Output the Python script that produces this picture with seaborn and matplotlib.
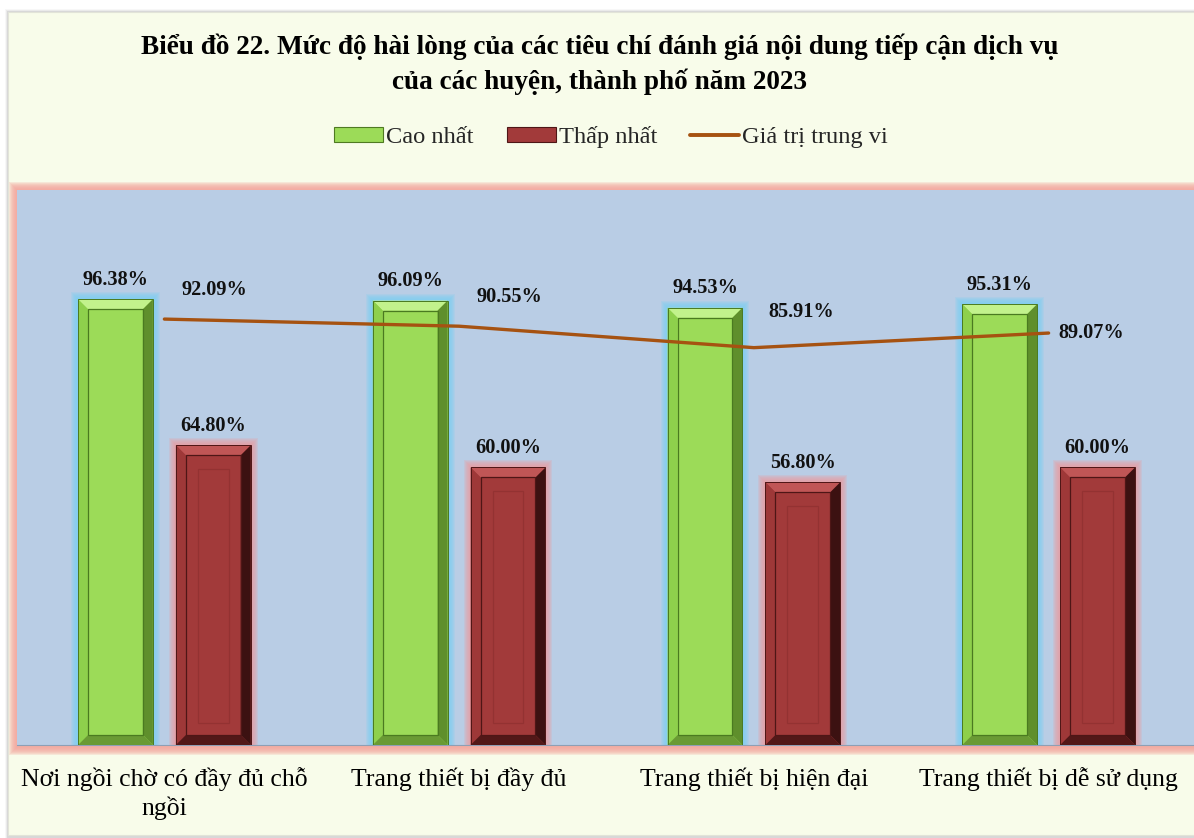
import numpy as np
import pandas as pd
import matplotlib
matplotlib.use("Agg")
import matplotlib.pyplot as plt
from matplotlib.patches import Rectangle, Polygon, Patch
from matplotlib.lines import Line2D
import seaborn as sns

# ---- data -------------------------------------------------------------
categories = [
    "Nơi ngồi chờ có đầy đủ chỗ\nngồi",
    "Trang thiết bị đầy đủ",
    "Trang thiết bị hiện đại",
    "Trang thiết bị dễ sử dụng",
]
highest = [96.38, 96.09, 94.53, 95.31]
lowest = [64.80, 60.00, 56.80, 60.00]
median = [92.09, 90.55, 85.91, 89.07]
series_names = ["Cao nhất", "Thấp nhất", "Giá trị trung vi"]
title = ("Biểu đồ 22. Mức độ hài lòng của các tiêu chí đánh giá nội dung tiếp cận dịch vụ\n"
         "của các huyện, thành phố năm 2023")

# ---- style ------------------------------------------------------------
W, H = 1194, 838
SERIF = ["Liberation Serif", "DejaVu Serif"]
sns.set_theme(style="white")
plt.rcParams["font.family"] = SERIF

GREEN = "#9CDB58"
RED = "#A23A3A"
LINE = "#A65211"
PLOT_BG = "#B9CDE5"
CREAM = "#F8FCEA"

fig = plt.figure(figsize=(W / 100, H / 100), dpi=100, facecolor="white")


def fx(px):
    return px / W


def fy(py):
    return 1 - py / H


# chart frame with a soft shadow
for i, a in enumerate([0.06, 0.10, 0.16]):
    fig.patches.append(Rectangle((fx(5 + i), fy(838)), fx(1200), fy(9 + i) - fy(838),
                                 transform=fig.transFigure, facecolor="#808080",
                                 alpha=a, edgecolor="none", zorder=-10))
fig.patches.append(Rectangle((fx(8), fy(835)), fx(1200), fy(12) - fy(835),
                             transform=fig.transFigure, facecolor=CREAM,
                             edgecolor="#E2E4D8", lw=0.8, zorder=-9))

# plot area: blue face with salmon glow around it
ax_l, ax_r, ax_t, ax_b = 17, 1196, 190, 745
for k in range(8, 0, -1):
    fig.patches.append(Rectangle((fx(ax_l - k), fy(ax_b + k + 2)),
                                 fx(ax_r - ax_l + 2 * k), fy(ax_t - k) - fy(ax_b + k + 2),
                                 transform=fig.transFigure, facecolor="#F3A59C",
                                 alpha=0.24, edgecolor="none", zorder=-8))

ax = fig.add_axes([fx(ax_l), fy(ax_b), fx(ax_r - ax_l), fy(ax_t) - fy(ax_b)])
ax.set_facecolor(PLOT_BG)

df = pd.DataFrame({
    "cat": categories * 2,
    "val": highest + lowest,
    "series": [series_names[0]] * 4 + [series_names[1]] * 4,
})
sns.barplot(data=df, x="cat", y="val", hue="series", palette=[GREEN, RED],
            saturation=1, width=0.664, gap=0.235, legend=False, ax=ax, zorder=3,
            edgecolor="none", linewidth=0)

ax.set_ylim(0, 120)
ax.set_xlim(-0.5, 3.5)
ax.set_xlabel("")
ax.set_ylabel("")
ax.set_yticks([])
ax.tick_params(axis="x", length=0, pad=16, labelsize=18.5, labelcolor="black")
for lab in ax.get_xticklabels():
    lab.set_fontfamily(SERIF)
    lab.set_linespacing(1.3)
for s in ["top", "left", "right"]:
    ax.spines[s].set_visible(False)
ax.spines["bottom"].set_color("#8E9FB5")
ax.spines["bottom"].set_linewidth(0.8)

inv = ax.transData.inverted()


def poly(pts, **kw):
    ax.add_patch(Polygon(inv.transform(np.array(pts, dtype=float)), closed=True,
                         transform=ax.transData, **kw))


def rect(x0, y0, x1, y1, **kw):
    poly([(x0, y0), (x1, y0), (x1, y1), (x0, y1)], **kw)


bevel = {
    0: dict(top="#C2F28C", left="#8ED04C", right="#5F8F2C", bottom="#6A9A34",
            edge="#4A7A20", glow="#78D0F4", inner=None),
    1: dict(top="#C05656", left="#9E3838", right="#3C1111", bottom="#521818",
            edge="#4E1616", glow="#EE9A9E", inner="#933232"),
}

for si, cont in enumerate(ax.containers):
    st = bevel[si]
    for bar in cont:
        (x0, y0), (x1, y1) = ax.transData.transform(
            [(bar.get_x(), 0), (bar.get_x() + bar.get_width(), bar.get_height())])
        # glow
        for k in range(7, 0, -1):
            rect(x0 - k, y0, x1 + k, y1 + k, facecolor=st["glow"], alpha=0.2,
                 edgecolor="none", zorder=2)
        b = 10
        poly([(x0, y1), (x1, y1), (x1 - b, y1 - b), (x0 + b, y1 - b)],
             facecolor=st["top"], edgecolor="none", zorder=4)
        poly([(x0, y0), (x0, y1), (x0 + b, y1 - b), (x0 + b, y0 + b)],
             facecolor=st["left"], edgecolor="none", zorder=4)
        poly([(x1, y1), (x1, y0), (x1 - b, y0 + b), (x1 - b, y1 - b)],
             facecolor=st["right"], edgecolor="none", zorder=4)
        poly([(x0, y0), (x1, y0), (x1 - b, y0 + b), (x0 + b, y0 + b)],
             facecolor=st["bottom"], edgecolor="none", zorder=4)
        rect(x0 + b, y0 + b, x1 - b, y1 - b, facecolor="none",
             edgecolor=st["edge"], lw=0.9, zorder=5)
        rect(x0, y0, x1, y1, facecolor="none", edgecolor=st["edge"], lw=0.7, zorder=5)
        if st["inner"]:
            rect(x0 + 22, y0 + 22, x1 - 22, y1 - 24, facecolor="none",
                 edgecolor=st["inner"], lw=0.9, zorder=5)
        ax.annotate(f"{bar.get_height():.2f}%", (bar.get_x() + bar.get_width() / 2, bar.get_height()),
                    xytext=(0, 14), textcoords="offset points", ha="center", va="center",
                    fontsize=14.6, fontweight="bold", color="#111111", zorder=7)

# median line drawn across the category centres
xpos = ax.get_xticks()
sns.lineplot(x=xpos, y=median, color=LINE, linewidth=2.4, ax=ax, zorder=6,
             solid_capstyle="round")
label_offsets = [(36, 21), (36, 21), (34, 26), (31, 0)]
for xp, v, off in zip(xpos, median, label_offsets):
    ax.annotate(f"{v:.2f}%", (xp, v), xytext=off, textcoords="offset points",
                ha="center", va="center", fontsize=14.6, fontweight="bold",
                color="#111111", zorder=7)

# title
fig.text(fx(600), fy(64.5), title, ha="center", va="center", fontsize=19.6,
         fontweight="bold", linespacing=1.42, color="black", family=SERIF)

# legend
handles = [
    Patch(facecolor=GREEN, edgecolor="#4F7A22", lw=0.8),
    Patch(facecolor=RED, edgecolor="#4E1616", lw=0.8),
    Line2D([0], [0], color=LINE, lw=2.8),
]
fig.legend(handles, series_names, loc="center", bbox_to_anchor=(fx(611), fy(137)),
           ncol=3, frameon=False, handlelength=2.0, handleheight=0.55,
           handletextpad=0.12, columnspacing=1.35, prop={"family": SERIF, "size": 17.6})

fig.savefig("out.png", dpi=100, facecolor=fig.get_facecolor())
